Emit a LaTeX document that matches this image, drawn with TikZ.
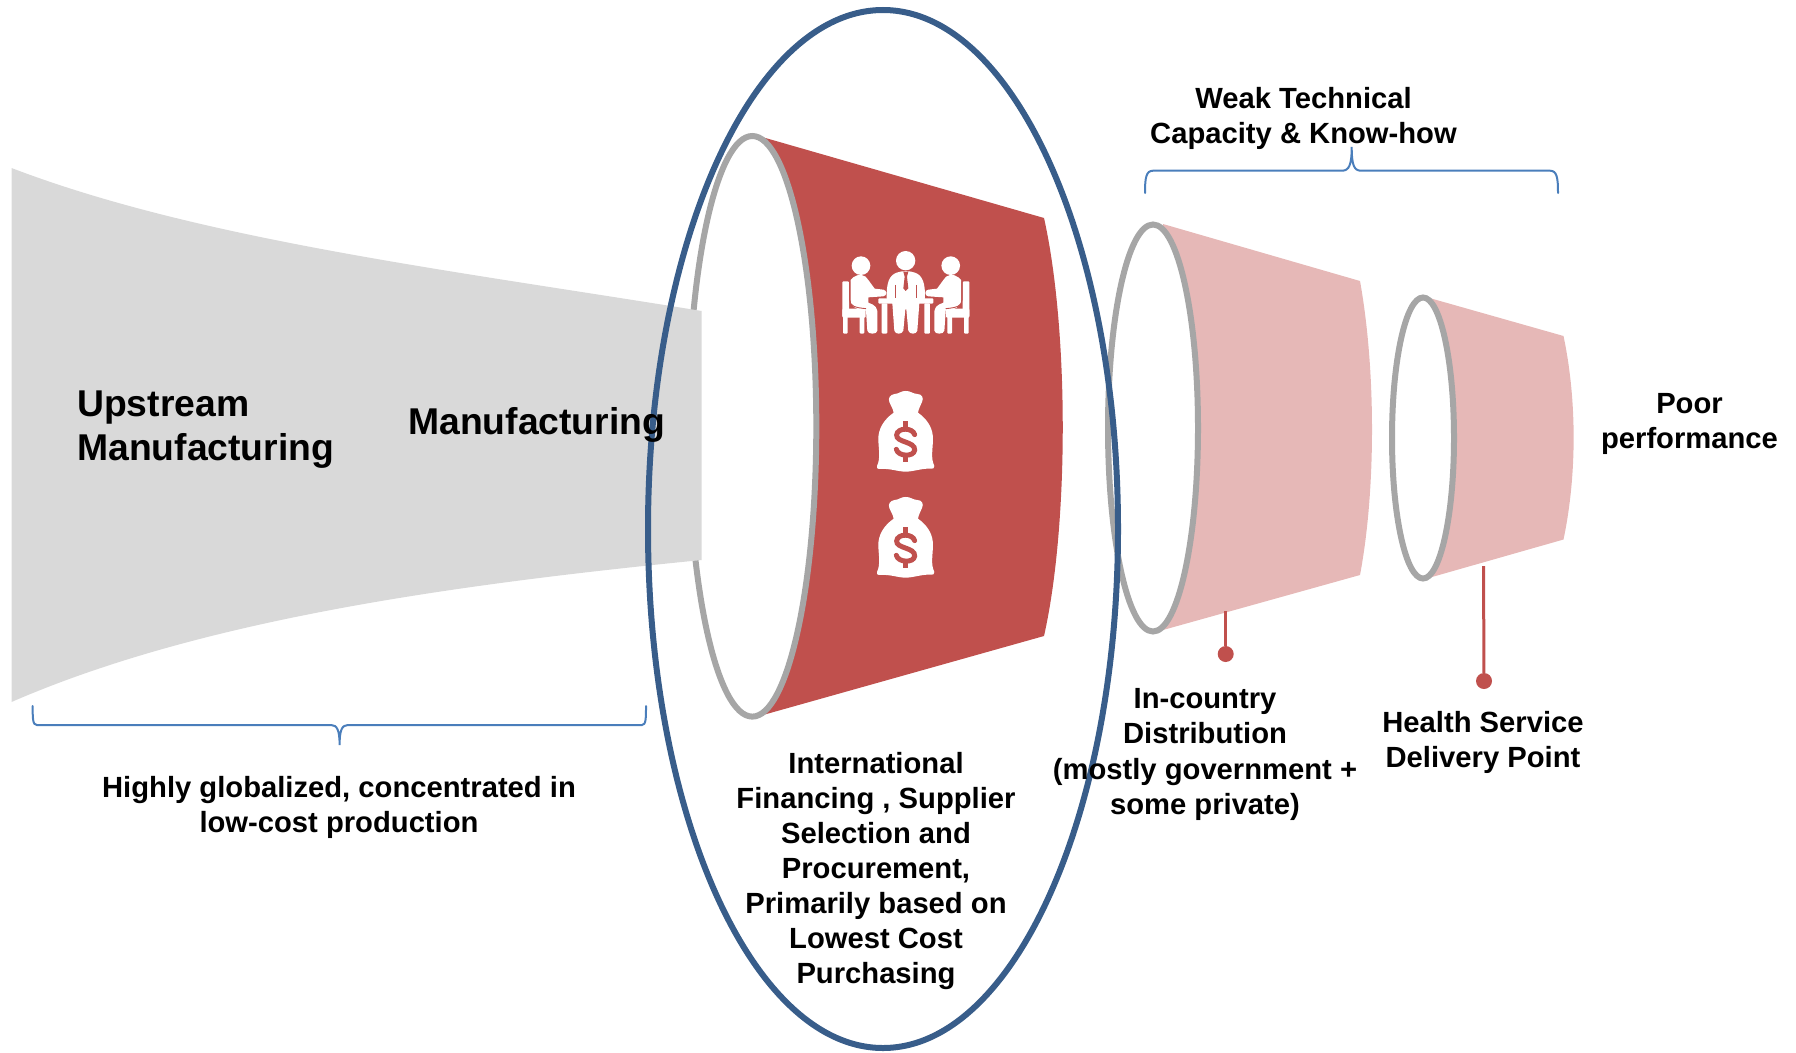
\documentclass[tikz,border=0pt]{standalone}
\usepackage{fontspec}
\usetikzlibrary{shapes.geometric}
\setmainfont{Liberation Sans}
\definecolor{fgray}{HTML}{D9D9D9}
\definecolor{rgray}{HTML}{A6A6A6}
\definecolor{cred}{HTML}{C0504D}
\definecolor{cpink}{HTML}{E6B8B7}
\definecolor{cblue}{HTML}{4A7EBB}
\definecolor{dblue}{HTML}{385D8A}
\tikzset{
  rimring/.style={ellipse,draw=rgray,line width=6pt,fill=white,inner sep=0pt},
  bracket/.style={draw=cblue,line width=2pt,line cap=round},
  lab/.style={font=\fontsize{29.2}{35.1}\selectfont\bfseries,align=center,text=black,inner sep=0pt},
  biglab/.style={font=\fontsize{37.3}{44.7}\selectfont\bfseries,align=left,text=black,inner sep=0pt},
  stem/.style={draw=cred,line width=3pt},
  pin/.style={circle,fill=cred,minimum size=16pt,inner sep=0pt}
}
\newcommand{\bagicon}[1]{%
\begin{scope}[shift={(800,#1)},x=.3333pt,y=-.3333pt]
\fill[white] (317,513) .. controls (330,512) and (340,522) .. (352,522)
 .. controls (366,522) and (372,534) .. (366,546) .. controls (362,556) and (356,566) .. (354,578)
 .. controls (385,600) and (400,628) .. (399,660) .. controls (398,690) and (392,715) .. (403,738)
 .. controls (405,746) and (398,747) .. (390,746) .. controls (365,745) and (340,755) .. (317,755)
 .. controls (294,755) and (270,745) .. (244,747) .. controls (232,748) and (228,744) .. (231,738)
 .. controls (242,715) and (236,690) .. (235,660) .. controls (234,628) and (250,600) .. (281,578)
 .. controls (279,566) and (272,556) .. (268,546) .. controls (264,534) and (270,524) .. (284,522)
 .. controls (296,522) and (304,512) .. (317,513) -- cycle;
\draw[cred,line width=5pt,line cap=round] (344,644) .. controls (338,622) and (292,622) .. (290,645)
 .. controls (288,668) and (346,664) .. (344,690) .. controls (342,712) and (294,710) .. (289,688);
\draw[cred,line width=4.5pt] (317,604) -- (317,622) (317,710) -- (317,727);
\end{scope}}
\newcommand{\sideperson}{%
 \fill[white] (183,137) circle[radius=28*.3333pt];
 \fill[white] (160,172) .. controls (175,160) and (197,163) .. (205,180) -- (224,206) -- (250,209)
  .. controls (262,210) and (262,228) .. (250,229) -- (205,232) -- (205,248)
  .. controls (225,255) and (234,262) .. (232,285) -- (232,332)
  .. controls (232,344) and (203,344) .. (202,332) -- (198,272) .. controls (170,268) and (152,262) .. (152,240) -- (152,180) -- cycle;
 \fill[white,rounded corners=1pt] (127,184) rectangle (147,290);
 \fill[white,rounded corners=1pt] (127,266) rectangle (197,293);
 \fill[white,rounded corners=1pt] (129,288) rectangle (143,341);
 \fill[white,rounded corners=1pt] (179,288) rectangle (193,341);
 \draw[cred,line width=.9pt] (149,185) -- (149,240) .. controls (149,258) and (165,263) .. (198,266);
}
\begin{document}
\begin{tikzpicture}[x=1pt,y=-1pt]
\useasboundingbox (0,0) rectangle (1796,1052);
% red funnel
\fill[cred] (762,137) -- (1044,218) .. controls (1069,330) and (1069,525) .. (1044,636) -- (763,715) -- cycle;
\node[rimring,minimum width=128pt,minimum height=580.6pt] (redrim) at (752.3,426.3) {};
% grey funnel
\path[fill=fgray] (11.5,168) .. controls (200,240) and (450,270) .. (701.7,311) -- (701.7,560)
  .. controls (450,585) and (200,620) .. (11.5,702) -- cycle;
% pink funnels
\fill[cpink] (1163,224) -- (1360,281) .. controls (1376,370) and (1376,490) .. (1360,575) -- (1163,630) -- cycle;
\node[rimring,minimum width=90pt,minimum height=407pt] (rimA) at (1153,428) {};
\fill[cpink] (1429.5,298) -- (1563.5,336) .. controls (1577,400) and (1577,475) .. (1563.5,539.5) -- (1432,577) -- cycle;
\node[rimring,minimum width=62pt,minimum height=281pt] (rimB) at (1423,438) {};
% big ellipse
\node[ellipse,draw=dblue,line width=6pt,minimum width=470pt,minimum height=1038pt,inner sep=0pt] (focus) at (883,529) {};
% meeting icon
\begin{scope}[shift={(800,220)},x=.3333pt,y=-.3333pt]
 \sideperson
 \begin{scope}[xshift=211.7pt,xscale=-1] \sideperson \end{scope}
 \fill[white] (317,122) circle[radius=29*.3333pt];
 \fill[white] (290,158) .. controls (305,152) and (330,152) .. (345,158)
   .. controls (368,166) and (376,190) .. (375,235) -- (358,250) -- (352,332)
   .. controls (350,344) and (328,344) .. (325,332) -- (319,268) -- (316,268) -- (310,332)
   .. controls (307,344) and (285,344) .. (283,332) -- (277,250) -- (260,235)
   .. controls (259,190) and (267,166) .. (290,158) -- cycle;
 \fill[cred] (310,155) -- (325,155) -- (321,170) -- (325,205) -- (317,213) -- (310,205) -- (314,170) -- cycle;
 \draw[cred,line width=.9pt] (287,195) -- (287,235) (348,195) -- (348,235);
 \fill[white,rounded corners=1pt] (235,235) rectangle (400,251);
 \fill[white,rounded corners=1pt] (245,250) rectangle (262,341);
 \fill[white,rounded corners=1pt] (373,250) rectangle (390,341);
\end{scope}
\bagicon{220}
\bagicon{326}
% stems and pins
\node[pin] (pinA) at (1225.7,654) {};
\node[pin] (pinB) at (1484,681) {};
\coordinate (stemA) at (1225.7,611);
\coordinate (stemB) at (1483.5,566);
\draw[stem] (stemA) -- (pinA);
\draw[stem] (stemB) -- (pinB);
% braces
\coordinate (topL) at (1145,193);
\coordinate (topT) at (1351.7,147);
\coordinate (topR) at (1558,193);
\draw[bracket] (topL) .. controls (1145,178) and (1146,170.7) .. (1153,170.7) -- (1342,170.7)
  .. controls (1349,170.7) and (1351.7,165) .. (topT)
  .. controls (1351.7,165) and (1354,170.7) .. (1361,170.7) -- (1550,170.7)
  .. controls (1557,170.7) and (1558,178) .. (topR);
\coordinate (botL) at (32.7,706);
\coordinate (botT) at (339.6,745);
\coordinate (botR) at (646,706);
\draw[bracket] (botL) .. controls (32.7,718) and (32.5,725) .. (37,725) -- (331,725)
  .. controls (337,725) and (339.6,730) .. (botT)
  .. controls (339.6,730) and (342,725) .. (348,725) -- (642,725)
  .. controls (646,725) and (646,718) .. (botR);
% labels
\node[biglab,anchor=west] (upstream) at (77,429.5) {Upstream\\Manufacturing};
\node[biglab,anchor=west] (manuf) at (408,424.5) {Manufacturing};
\node[lab] (weak) at (1303.5,118.5) {Weak Technical\\Capacity \& Know-how};
\node[lab] (poor) at (1689.5,424) {Poor\\performance};
\node[lab] (high) at (339,807) {Highly globalized, concentrated in\\low-cost production};
\node[lab] (intl) at (876,871) {International\\Financing , Supplier\\Selection and\\Procurement,\\Primarily based on\\Lowest Cost\\Purchasing};
\node[lab] (ctry) at (1205,754.5) {In-country\\Distribution\\(mostly government +\\some private)};
\node[lab] (hsdp) at (1483,742) {Health Service\\Delivery Point};
\end{tikzpicture}
\end{document}
